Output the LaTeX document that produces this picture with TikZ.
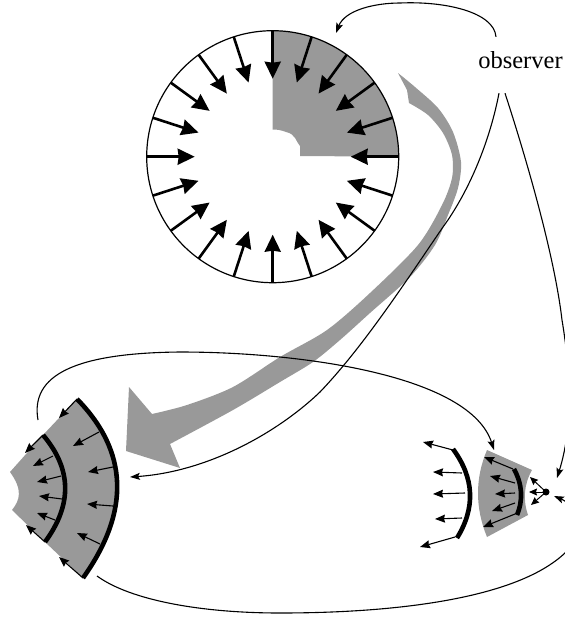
\documentclass[tikz,border=0pt]{standalone}
\usepackage{fontspec}
\setmainfont{Liberation Serif}
\usetikzlibrary{arrows.meta}

\begin{document}
\begin{tikzpicture}[
    x=1pt, y=-1pt,
    shade/.style={fill=black!40},
    rim/.style={draw=black, line width=4.6pt},
    bigray/.style={-{Stealth[length=17pt, width=16pt, inset=1pt]}, line width=2.6pt, black},
    ray/.style={-{Stealth[length=10pt, width=8pt, inset=1pt]}, line width=1.1pt, black},
    tinyray/.style={-{Stealth[length=8pt, width=7pt, inset=1pt]}, line width=1pt, black},
    link/.style={-{Stealth[length=10pt, width=7pt, inset=2pt]}, line width=1.1pt, black}
]
    \clip (0, 0) rectangle (565, 619);

    % Big sphere with shaded quadrant
    \fill [shade] (272.7, 30.7) .. controls (342.3, 30.7) and (398.7, 87.1) .. (398.7, 156.7)
        -- (300, 156) -- (300, 146) .. controls (296, 142) and (296, 134) .. (286, 132)
        .. controls (281, 130) and (277, 129.5) .. (272.7, 129.5) -- cycle;
    \draw [line width=1.2pt] (272.7, 156.7) circle (126);
    \begin{scope}[shift={(272.7, 156.7)}]
        \foreach \a in {0, 18, ..., 342} {
            \draw [bigray] (\a:126) -- (\a:78);
        }
    \end{scope}

    % Thick grey arrow
    \fill [shade] (398, 73) -- (407, 90) -- (409, 103)
        -- plot [smooth] coordinates {(409, 103) (428, 115) (443, 133) (452, 155) (452, 178) (442, 205) (418, 245) (370, 293) (327, 330) (280, 357) (233, 387) (187, 405) (152, 414)}
        -- (129, 387) -- (126, 451) -- (180, 468) -- (170, 444)
        -- plot [smooth] coordinates {(170, 444) (233, 410) (280, 382) (313, 362) (340, 340) (370, 313) (410, 277) (435, 245) (448, 215) (458, 188) (461, 162) (453, 132) (438, 108) (415, 87) (398, 73)}
        -- cycle;

    % Left shell
    \fill [shade] (77, 399) .. controls (128.3, 451.3) and (130.7, 511) .. (83, 578)
        -- (45, 542) -- (12, 510) .. controls (20, 500) and (23, 490) .. (10, 472) -- (43, 435) -- cycle;
    \draw [rim] (77, 399) .. controls (128.3, 451.3) and (130.7, 511) .. (83, 578);
    \draw [rim] (43, 435) .. controls (71.7, 468.7) and (72.7, 504.3) .. (45, 542);
    \foreach \xa/\ya/\xb/\yb in {77/399/59/418, 99/432/73/446, 113/467/88/472, 113/506/87/504, 100/544/77/533, 83/578/59/557,
        43/435/25/453, 53/456/33/466, 61/476/37/482, 62/499/39/496, 55/520/37/513, 45/542/26/525} {
        \draw [ray] (\xa, \ya) -- (\xb, \yb);
    }

    % Right shells
    \draw [rim] (453, 449) .. controls (474.3, 478) and (475.7, 507.7) .. (457, 538);
    \foreach \xa/\ya/\xb/\yb in {453/450/423/442, 462/473/433/472, 465/493/433/494, 462/518/435/519, 455/537/420/547} {
        \draw [ray] (\xa, \ya) -- (\xb, \yb);
    }
    \fill [shade] (487, 450) -- (532, 470) .. controls (524, 484.3) and (522.7, 499.3) .. (528, 515)
        -- (487, 537) .. controls (475, 507.7) and (475, 478.3) .. (487, 450) -- cycle;
    \draw [rim] (514, 469) .. controls (522.3, 484.3) and (523.3, 499.7) .. (517, 515);
    \foreach \xa/\ya/\xb/\yb in {513/469/484/457, 515/483/490/476, 515/493/495/494, 515/503/492/511, 515/514/483/527} {
        \draw [ray] (\xa, \ya) -- (\xb, \yb);
    }

    % Small source
    \fill (546, 492) circle (3.5);
    \foreach \xb/\yb in {530/477, 529/492, 531/505} {
        \draw [tinyray] (546, 492) -- (\xb, \yb);
    }

    % Observer and links
    \node (observer) [inner xsep=0pt, inner ysep=15pt, text height=16pt, text depth=10pt, font=\fontsize{24.5}{24.5}\selectfont] at (520.5, 65) {observer};
    \coordinate (bigtip) at (336, 33);
    \coordinate (lefttip) at (130, 477);
    \coordinate (righttip) at (557, 478);
    \coordinate (smalltip) at (554, 496);
    \coordinate (shelltip) at (494, 450);
    \coordinate (shellstart) at (38, 420);
    \coordinate (shellend) at (97, 576);

    \draw [link] ([xshift=-24.5pt]observer.north) .. controls (494, 12) and (445, 1) .. (400, 3)
        .. controls (375, 3) and (345, 10) .. (bigtip);
    \draw [link] ([xshift=-21.5pt]observer.south) .. controls (490, 140) and (470, 190) .. (443, 227)
        .. controls (410, 275) and (365, 345) .. (320, 392)
        .. controls (275, 435) and (205, 472) .. (lefttip);
    \draw [link] ([xshift=-15.5pt]observer.south) .. controls (530, 170) and (555, 260) .. (562, 320)
        .. controls (572, 380) and (572, 430) .. (righttip);
    \draw [link] (shellstart) .. controls (30, 375) and (75, 353) .. (180, 352)
        .. controls (300, 352) and (470, 375) .. (shelltip);
    \draw [link] (shellend) .. controls (130, 600) and (200, 613) .. (280, 613)
        .. controls (390, 613) and (520, 600) .. (568, 550)
        .. controls (590, 525) and (575, 505) .. (smalltip);
\end{tikzpicture}
\end{document}
